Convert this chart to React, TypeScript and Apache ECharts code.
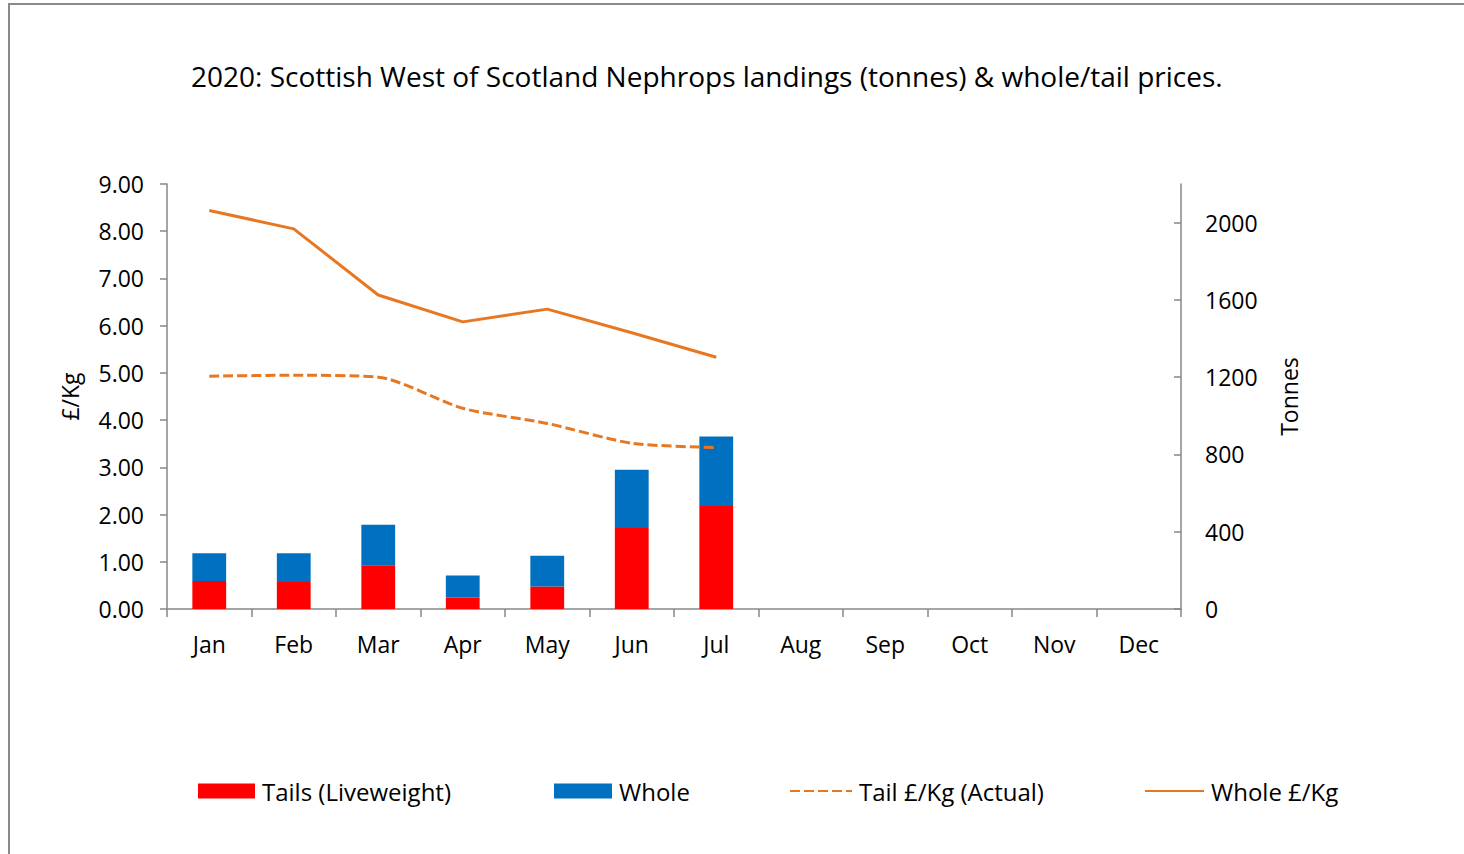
import React, { useEffect, useRef } from "react";
import * as echarts from "echarts";

const months = ["Jan", "Feb", "Mar", "Apr", "May", "Jun", "Jul", "Aug", "Sep", "Oct", "Nov", "Dec"];
const tailsTonnes = [145, 140, 226, 60, 117, 419, 533];
const wholeTonnes = [143, 148, 210, 114, 159, 302, 360];
const tailPrice = [4.93, 4.95, 4.91, 4.25, 3.93, 3.51, 3.42];
const wholePrice = [8.44, 8.05, 6.65, 6.08, 6.35, 5.85, 5.33];
const tonneTicks = [0, 400, 800, 1200, 1600, 2000];

const FONT = "Open Sans";
const AXIS_GREY = "#878787";
const ORANGE = "#E87722";
const LABEL_SIZE = 23;

export default function App() {
  const ref = useRef<HTMLDivElement>(null);
  useEffect(() => {
    if (!ref.current) return;
    const chart = echarts.init(ref.current, null, { renderer: "svg" });
    const legendDefs = [
      { left: 198, name: "Tails (Liveweight)", w: 57, line: false },
      { left: 554, name: "Whole", w: 58, line: false },
      { left: 789, name: "Tail £/Kg (Actual)", w: 62, line: true },
      { left: 1144, name: "Whole £/Kg", w: 59, line: true },
    ];
    chart.setOption({
      animation: false,
      backgroundColor: "#ffffff",
      textStyle: { fontFamily: FONT, color: "#000" },
      title: {
        text: "2020: Scottish West of Scotland Nephrops landings (tonnes) & whole/tail prices.",
        left: 186,
        top: 57,
        textStyle: { fontFamily: FONT, fontSize: 28, fontWeight: "normal", color: "#000" },
      },
      legend: legendDefs.map((l) => {
        const base: any = {
          left: l.left,
          top: 779,
          padding: 0,
          data: [l.line ? { name: l.name } : { name: l.name, icon: "rect" }],
          itemWidth: l.w,
          itemHeight: 15,
          itemGap: 0,
          textStyle: { fontFamily: FONT, fontSize: 24, color: "#000", padding: [0, 0, 0, 2] },
        };
        if (l.line) base.itemStyle = { opacity: 0 };
        return base;
      }),
      grid: { left: 167, right: 283, top: 184, bottom: 245, containLabel: false },
      xAxis: {
        type: "category",
        data: months,
        boundaryGap: true,
        axisLine: { lineStyle: { color: AXIS_GREY, width: 1.5 } },
        axisTick: { show: true, length: 8, lineStyle: { color: AXIS_GREY, width: 1.5 } },
        axisLabel: { fontFamily: FONT, fontSize: LABEL_SIZE, color: "#000", margin: 23 },
        splitLine: { show: false },
      },
      yAxis: [
        {
          type: "value",
          min: 0,
          max: 9,
          interval: 1,
          name: "£/Kg",
          nameLocation: "middle",
          nameGap: 86,
          nameRotate: 90,
          nameTextStyle: { fontFamily: FONT, fontSize: LABEL_SIZE, color: "#000" },
          axisLine: { show: true, lineStyle: { color: AXIS_GREY, width: 1.5 } },
          axisTick: { show: true, length: 7, lineStyle: { color: AXIS_GREY, width: 1.5 } },
          axisLabel: {
            fontFamily: FONT,
            fontSize: LABEL_SIZE,
            color: "#000",
            margin: 23,
            formatter: (v: number) => v.toFixed(2),
          },
          splitLine: { show: false },
        },
        {
          type: "value",
          min: 0,
          max: 2200,
          position: "right",
          name: "Tonnes",
          nameLocation: "middle",
          nameGap: 96,
          nameRotate: 90,
          nameTextStyle: { fontFamily: FONT, fontSize: LABEL_SIZE, color: "#000" },
          axisLine: { show: true, lineStyle: { color: AXIS_GREY, width: 1.5 } },
          axisTick: {
            show: true,
            inside: true,
            length: 7,
            customValues: tonneTicks,
            lineStyle: { color: AXIS_GREY, width: 1.5 },
          },
          axisLabel: {
            fontFamily: FONT,
            fontSize: LABEL_SIZE,
            color: "#000",
            margin: 24,
            customValues: tonneTicks,
            formatter: (v: number) => String(v),
          },
          splitLine: { show: false },
        },
      ],
      series: [
        {
          name: "Tails (Liveweight)",
          type: "bar",
          stack: "tonnes",
          yAxisIndex: 1,
          barWidth: "40%",
          itemStyle: { color: "#FF0000" },
          data: tailsTonnes,
        },
        {
          name: "Whole",
          type: "bar",
          stack: "tonnes",
          yAxisIndex: 1,
          barWidth: "40%",
          itemStyle: { color: "#0070C0" },
          data: wholeTonnes,
        },
        {
          name: "Tail £/Kg (Actual)",
          type: "line",
          yAxisIndex: 0,
          symbol: "none",
          smooth: 0.25,
          lineStyle: { color: ORANGE, width: 3, type: [10, 4] },
          itemStyle: { color: ORANGE },
          data: tailPrice,
        },
        {
          name: "Whole £/Kg",
          type: "line",
          yAxisIndex: 0,
          symbol: "none",
          lineStyle: { color: ORANGE, width: 3 },
          itemStyle: { color: ORANGE },
          data: wholePrice,
        },
      ],
    });
    return () => chart.dispose();
  }, []);
  return (
    <div style={{ position: "fixed", left: 0, top: 0, width: 1464, height: 854, overflow: "hidden", background: "#fff" }}>
      <div ref={ref} style={{ position: "absolute", left: 0, top: 0, width: 1464, height: 854 }} />
      <div
        style={{
          position: "absolute",
          left: 8,
          top: 3,
          width: 1500,
          height: 900,
          border: "2px solid #8a8a8a",
          pointerEvents: "none",
        }}
      />
    </div>
  );
}
